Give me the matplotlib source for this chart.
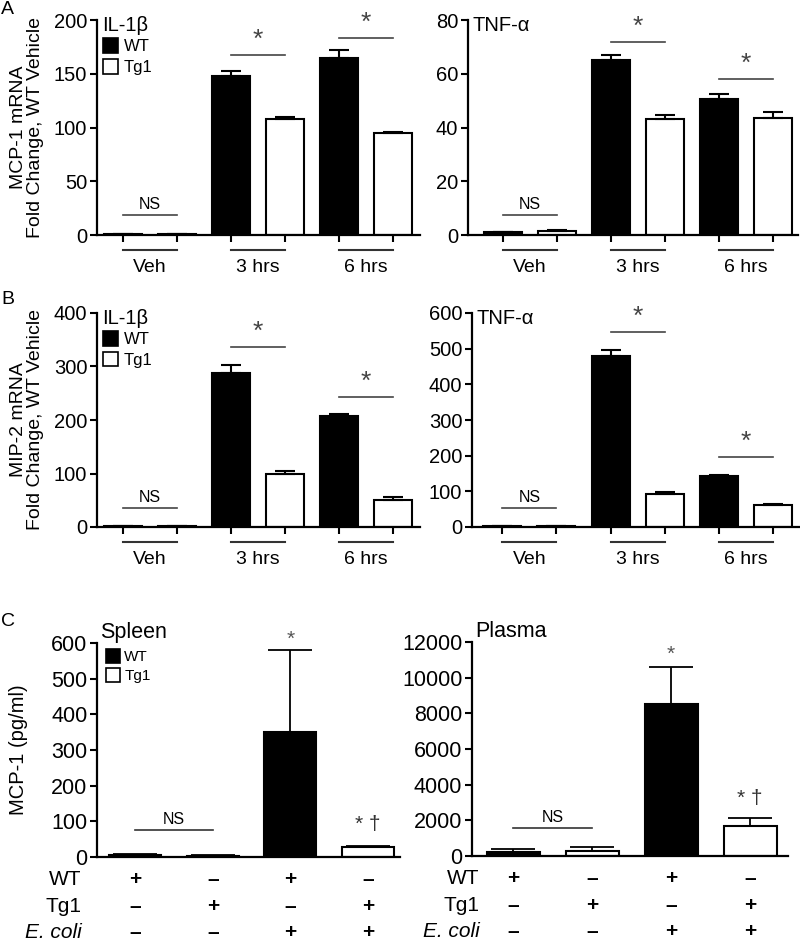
import numpy as np
import matplotlib.pyplot as plt
from matplotlib.patches import Patch

plt.rcParams['font.family'] = ['Liberation Sans', 'DejaVu Sans']

# genotypes and time points
groups = ['WT', 'Tg1']
times = ['Veh', '3 hrs', '6 hrs']

# A: MCP-1 mRNA (fold change)
a_il1_wt = [1, 148, 165]
a_il1_wt_err = [0.3, 5, 7]
a_il1_tg = [1, 108, 95]
a_il1_tg_err = [0.3, 2, 0.5]
a_tnf_wt = [1, 65, 50.5]
a_tnf_wt_err = [0.2, 2, 2]
a_tnf_tg = [1.5, 43, 43.5]
a_tnf_tg_err = [0.3, 1.5, 2.3]

# B: MIP-2 mRNA (fold change)
b_il1_wt = [2, 287, 208]
b_il1_wt_err = [0.5, 15, 3]
b_il1_tg = [2, 100, 51]
b_il1_tg_err = [0.5, 4, 5]
b_tnf_wt = [2, 480, 143]
b_tnf_wt_err = [0.5, 15, 3]
b_tnf_tg = [2, 93, 62]
b_tnf_tg_err = [0.5, 5, 3]

# C: MCP-1 protein (pg/ml)
c_rows = ['WT', 'Tg1', 'E. coli']
c_signs = [['+', '–', '+', '–'],
           ['–', '+', '–', '+'],
           ['–', '–', '+', '+']]
c_colors = ['black', 'white', 'black', 'white']
spleen = [5, 4, 350, 27]
spleen_err = [3, 2, 230, 4]
plasma = [200, 280, 8500, 1700]
plasma_err = [200, 240, 2100, 450]

fig = plt.figure(figsize=(8, 9.43), dpi=100)


def px_axes(l, r, t, b):
    return fig.add_axes([l / 800, 1 - b / 943, (r - l) / 800, (b - t) / 943])


def style(ax, fs):
    for s in ['top', 'right']:
        ax.spines[s].set_visible(False)
    for s in ['left', 'bottom']:
        ax.spines[s].set_linewidth(1.6)
    ax.tick_params(width=1.5, length=5, labelsize=fs, pad=2)


def legend(ax, x, y, fs):
    h = [Patch(fc='black', ec='black', lw=1.2), Patch(fc='white', ec='black', lw=1.2)]
    ax.legend(h, groups, loc='upper left', bbox_to_anchor=(x, y), frameon=False,
              fontsize=fs, handlelength=0.9, handleheight=1.0, handletextpad=0.3,
              labelspacing=0.25, borderpad=0, borderaxespad=0)


def time_panel(ax, wt, wt_err, tg, tg_err, ymax, ystep, xlim, title, sig, show_leg):
    style(ax, 14.5)
    x = np.arange(len(times))
    xw, xt = 2 * x, 2 * x + 1
    ek = dict(capsize=7, elinewidth=1.5, capthick=1.5, ecolor='black')
    ax.bar(xw, wt, 0.7, color='black', edgecolor='black', lw=1.5,
           yerr=[np.zeros(len(wt)), wt_err], error_kw=ek, zorder=2)
    ax.bar(xt, tg, 0.7, color='white', edgecolor='black', lw=1.5,
           yerr=[np.zeros(len(tg)), tg_err], error_kw=ek, zorder=2)
    ax.set_ylim(0, ymax)
    ax.set_yticks(np.arange(0, ymax + 1, ystep))
    ax.set_xlim(*xlim)
    ax.set_xticks(np.concatenate([xw, xt]))
    ax.set_xticklabels([])
    tr = ax.get_xaxis_transform()
    for i, t in enumerate(times):
        ax.plot([xw[i], xt[i]], [-0.07, -0.07], color='#333333', lw=1.5,
                transform=tr, clip_on=False)
        ax.text((xw[i] + xt[i]) / 2, -0.15, t, ha='center', va='center',
                fontsize=14, transform=tr)
    # significance bars: (group, line height, label)
    for i, yl, lab in sig:
        ax.plot([xw[i], xt[i]], [yl, yl], color='#444444', lw=1.2, clip_on=False)
        if lab == 'NS':
            ax.text((xw[i] + xt[i]) / 2, yl + ymax * 0.015, lab, ha='center',
                    va='bottom', fontsize=11.5)
        else:
            ax.text((xw[i] + xt[i]) / 2, yl + ymax * 0.015, lab, ha='center',
                    va='bottom', fontsize=19, color='#444444')
    ax.text(0.015, 0.975, title, transform=ax.transAxes, ha='left', va='center',
            fontsize=14.5)
    if show_leg:
        legend(ax, 0.02, 0.915, 12)


# panel A
axA1 = px_axes(97, 420, 20, 235)
time_panel(axA1, a_il1_wt, a_il1_wt_err, a_il1_tg, a_il1_tg_err, 200, 50,
           (-0.48, 5.5), 'IL-1β', [(0, 18.6, 'NS'), (1, 167, '*'), (2, 183, '*')], True)
axA1.text(-0.217, 0.5, 'MCP-1 mRNA\nFold Change, WT Vehicle', transform=axA1.transAxes,
          rotation=90, ha='center', va='center', fontsize=14, linespacing=1.05)

axA2 = px_axes(468, 798, 20, 235)
time_panel(axA2, a_tnf_wt, a_tnf_wt_err, a_tnf_tg, a_tnf_tg_err, 80, 20,
           (-0.65, 5.46), 'TNF-α', [(0, 7.4, 'NS'), (1, 71.8, '*'), (2, 58, '*')], False)

# panel B
axB1 = px_axes(97, 420, 313, 527)
time_panel(axB1, b_il1_wt, b_il1_wt_err, b_il1_tg, b_il1_tg_err, 400, 100,
           (-0.48, 5.5), 'IL-1β', [(0, 35, 'NS'), (1, 336, '*'), (2, 243, '*')], True)
axB1.text(-0.217, 0.5, 'MIP-2 mRNA\nFold Change, WT Vehicle', transform=axB1.transAxes,
          rotation=90, ha='center', va='center', fontsize=14, linespacing=1.05)

axB2 = px_axes(472, 800, 313, 527)
time_panel(axB2, b_tnf_wt, b_tnf_wt_err, b_tnf_tg, b_tnf_tg_err, 600, 100,
           (-0.56, 5.5), 'TNF-α', [(0, 53, 'NS'), (1, 547, '*'), (2, 196, '*')], False)


# panel C
def c_panel(ax, vals, errs, ymax, ystep, xlim, title, ns_y, star_y, dag_y, rowx, show_leg):
    style(ax, 15.5)
    x = np.arange(len(vals))
    ek = dict(capsize=16, elinewidth=1.3, capthick=1.3, ecolor='black')
    ax.bar(x, vals, 0.67, color=c_colors, edgecolor='black', lw=1.5,
           yerr=[np.zeros(len(vals)), errs], error_kw=ek, zorder=2)
    ax.set_ylim(0, ymax)
    ax.set_yticks(np.arange(0, ymax + 1, ystep))
    ax.set_xlim(*xlim)
    ax.set_xticks([])
    tr = ax.get_xaxis_transform()
    rows_y = [-0.103, -0.229, -0.355]
    for r, name in enumerate(c_rows):
        ax.text(rowx, rows_y[r], name, transform=ax.transAxes, ha='right', va='center',
                fontsize=15, style='italic' if name == 'E. coli' else 'normal')
        for i in x:
            ax.text(i, rows_y[r], c_signs[r][i], transform=tr, ha='center', va='center',
                    fontsize=15, fontweight='bold')
    ax.plot([0, 1], [ns_y, ns_y], color='#333333', lw=1.2)
    ax.text(0.5, ns_y + ymax * 0.015, 'NS', ha='center', va='bottom', fontsize=11.5)
    ax.text(2, star_y, '*', ha='center', va='center', fontsize=15, color='#555555',
            clip_on=False)
    ax.text(3, dag_y, '* †', ha='center', va='center', fontsize=15, color='#333333')
    ax.text(0.01, 1.05, title, transform=ax.transAxes, ha='left', va='center',
            fontsize=15.5)
    if show_leg:
        legend(ax, 0.03, 0.97, 11)


axC1 = px_axes(97, 400, 643, 857)
c_panel(axC1, spleen, spleen_err, 600, 100, (-0.49, 3.41), 'Spleen',
        76, 610, 92, -0.05, True)
axC1.text(-0.26, 0.5, 'MCP-1 (pg/ml)', transform=axC1.transAxes, rotation=90,
          ha='center', va='center', fontsize=14.5)

axC2 = px_axes(472, 788, 642, 856)
c_panel(axC2, plasma, plasma_err, 12000, 2000, (-0.52, 3.48), 'Plasma',
        1570, 11300, 3200, 0.025, False)

# panel letters
for lab, yy in [('A', 9), ('B', 300), ('C', 622)]:
    fig.text(1 / 800, 1 - yy / 943, lab, ha='left', va='center', fontsize=14)

plt.savefig('out.png', dpi=100)
